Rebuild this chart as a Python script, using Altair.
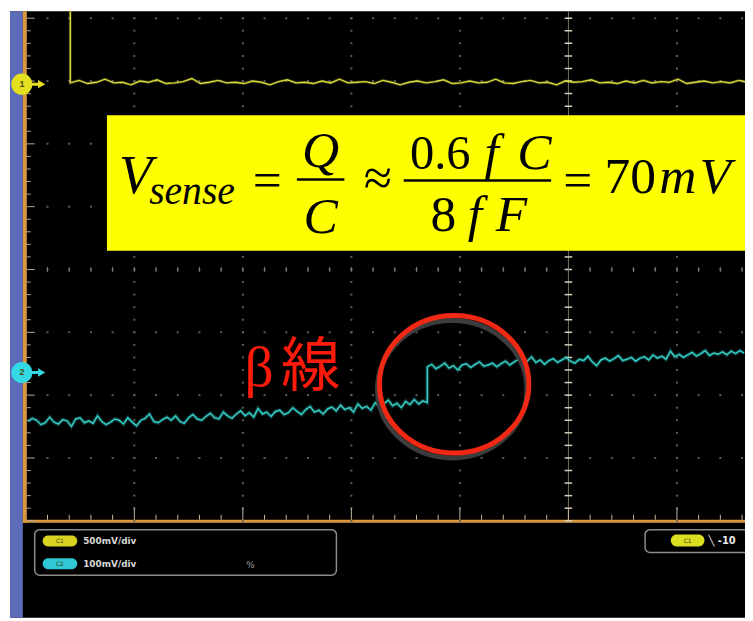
import altair as alt
import numpy as np
import pandas as pd

# ---------------- layout (page pixels -> scope divisions) ----------------
W, H = 745, 613
X0, XS = 26.0, 109.7   # page x of left graticule edge, px per division
Y0, YS = 269.0, 63.5   # page y of centre line, px per division
M = 8


def dx(px):
    return (px - X0) / XS


def vy(py):
    return (Y0 - py) / YS


XDOM = [dx(M), dx(M + W)]
YDOM = [vy(M + H), vy(M)]
xs = alt.Scale(domain=XDOM, nice=False, zero=False)
ys = alt.Scale(domain=YDOM, nice=False, zero=False)

# ---------------- data ----------------
ch_labels = ["1", "2"]
ch_levels = [2.95, -1.64]            # channel ground markers (div)
ch_scales = ["500mV/div", "100mV/div"]
trigger_text = "╲ -10"

# CH1 (yellow): drops from off-screen at t=0.41 div, then flat ~3 div
yellow_step_t = 0.41
yellow_dt = 0.08
yellow_vals = [
    2.97, 3.01, 2.96, 2.98, 3.03, 2.97, 2.98, 2.94, 3.00, 2.98,
    3.02, 2.96, 2.97, 2.99, 3.04, 2.96, 2.98, 3.01, 2.97, 2.98,
    2.96, 3.00, 2.98, 2.94, 2.99, 3.02, 2.97, 2.98, 2.96, 3.00,
    2.97, 3.03, 2.97, 2.98, 2.99, 2.96, 3.01, 2.98, 2.94, 2.98,
    3.00, 2.97, 2.99, 3.02, 2.96, 2.97, 3.00, 2.97, 2.98, 3.03,
    2.97, 2.96, 2.99, 3.01, 2.97, 2.98, 2.94, 3.00, 2.98, 2.99,
    3.02, 2.97, 2.98, 2.96, 3.00, 2.97, 3.01, 2.97, 2.99, 2.98,
    3.03, 2.96, 2.98, 3.00, 2.97, 2.99, 2.97, 3.01, 2.98,
]

# CH2 (cyan): slow drift, step of ~0.55 div (≈55 mV) at t=3.70 div
cyan_t0 = 0.02
cyan_dt = 0.04
cyan_step_t = 3.70
cyan_before = [
    -2.42, -2.37, -2.40, -2.47, -2.44, -2.35, -2.43, -2.46, -2.39, -2.41,
    -2.50, -2.38, -2.36, -2.44, -2.41, -2.45, -2.33, -2.42, -2.47, -2.43,
    -2.38, -2.40, -2.46, -2.36, -2.43, -2.49, -2.40, -2.37, -2.30, -2.42,
    -2.44, -2.39, -2.35, -2.40, -2.33, -2.42, -2.45, -2.36, -2.31, -2.38,
    -2.40, -2.34, -2.29, -2.36, -2.38, -2.27, -2.33, -2.37, -2.30, -2.25,
    -2.33, -2.28, -2.35, -2.21, -2.30, -2.27, -2.34, -2.26, -2.24, -2.31,
    -2.28, -2.20, -2.26, -2.31, -2.23, -2.18, -2.27, -2.24, -2.30, -2.22,
    -2.19, -2.25, -2.16, -2.23, -2.20, -2.27, -2.14, -2.21, -2.18, -2.24,
    -2.12, -2.19, -2.14, -2.08, -2.17, -2.13, -2.20, -2.10, -2.15, -2.07,
    -2.14, -2.09, -2.12,
]
cyan_after = [
    -1.55, -1.51, -1.58, -1.54, -1.49, -1.57, -1.53, -1.60, -1.52, -1.50,
    -1.56, -1.51, -1.47, -1.54, -1.52, -1.49, -1.55, -1.50, -1.46, -1.52,
    -1.47, -1.43, -1.50, -1.46, -1.39, -1.48, -1.44, -1.51, -1.45, -1.42,
    -1.48, -1.44, -1.40, -1.46, -1.49, -1.43, -1.45, -1.38, -1.47, -1.53,
    -1.44, -1.41, -1.46, -1.42, -1.37, -1.45, -1.43, -1.40, -1.46, -1.41,
    -1.39, -1.44, -1.36, -1.41, -1.38, -1.43, -1.30, -1.39, -1.35, -1.40,
    -1.36, -1.32, -1.38, -1.34, -1.29, -1.37, -1.33, -1.35, -1.31, -1.36,
    -1.30, -1.34, -1.29, -1.33,
]

annot_parts = [("β", 247, 58), ("線", 284, 60)]   # (text, left px, size)
annot_baseline = 387

# formula pieces: (text, centre px, baseline px, font size)
formula_italic = [
    ("V", 137, 192, 55), ("sense", 194, 203, 40),
    ("Q", 324, 165, 52), ("C", 324, 232, 52),
    ("f", 497, 167, 52), ("C", 540, 167, 52),
    ("f", 480, 230, 52), ("F", 517, 230, 52),
    ("m", 685, 192, 52), ("V", 723, 192, 52),
]
formula_normal = [
    ("=", 270, 196, 52), ("≈", 382, 194, 52), ("0.6", 445, 167, 49),
    ("8", 448, 230, 52), ("=", 584, 196, 52), ("70", 637, 192, 52),
]
fraction_bars = [(300, 348, 178), (408, 557, 179)]

# ---------------- helpers ----------------
def X(f):
    return alt.X(f"{f}:Q", scale=xs, axis=None)


def Y(f):
    return alt.Y(f"{f}:Q", scale=ys, axis=None)


def rect_df(px1, px2, py1, py2):
    return pd.DataFrame({"d": [dx(px1)], "d2": [dx(px2)], "v": [vy(py2)], "v2": [vy(py1)]})


def rect(df, **kw):
    return alt.Chart(df).mark_rect(**kw).encode(
        x=X("d"), x2=alt.X2("d2"), y=Y("v"), y2=alt.Y2("v2"))


def rules(df, **kw):
    return alt.Chart(df).mark_rule(**kw).encode(
        x=X("d"), x2=alt.X2("d2"), y=Y("v"), y2=alt.Y2("v2"))


layers = []

# screen background, blue side strip, orange frame
layers.append(rect(rect_df(10, 800, 0, 700), color="#000000"))
layers.append(rect(rect_df(10, 23, 0, 700), color="#5c6cb8"))
layers.append(rect(rect_df(23, 27, 0, 525), color="#d9973f"))
layers.append(rect(rect_df(23, 800, 522, 525), color="#d9973f"))

# graticule dots
gd, gv = [], []
for d in [1, 2, 3, 4, 6]:
    for v in np.arange(-4, 4.01, 0.2):
        gd.append(d); gv.append(v)
for v in [-3, -2, -1, 0, 1, 2, 3, 4]:
    for d in np.arange(0.2, 6.7, 0.2):
        gd.append(d); gv.append(v)
grid = pd.DataFrame({"d": gd, "v": gv})
layers.append(alt.Chart(grid).mark_square(size=4, color="#5e5e5e", opacity=1).encode(x=X("d"), y=Y("v")))

# centre vertical line with ticks
layers.append(rules(pd.DataFrame({"d": [5.0], "d2": [5.0], "v": [-4.0], "v2": [4.2]}),
                    color="#9a9280", strokeWidth=1, opacity=0.8))
tv = np.arange(-4, 4.01, 0.2)
layers.append(rules(pd.DataFrame({"d": 5 - 0.035, "d2": 5 + 0.035, "v": tv, "v2": tv}),
                    color="#d8d0b8", strokeWidth=1.5))
td = np.arange(0.2, 6.7, 0.2)
layers.append(rules(pd.DataFrame({"d": td, "d2": td, "v": -0.04, "v2": 0.04}),
                    color="#7a7a7a", strokeWidth=1))

# left frame ticks
lv = np.round(np.arange(-4, 4.01, 0.2), 2)
llen = [35 if abs(v - round(v)) < 1e-6 else 31 for v in lv]
layers.append(rules(pd.DataFrame({"d": dx(27), "d2": [dx(p) for p in llen], "v": lv, "v2": lv}),
                    color="#b8a890", strokeWidth=1))
# bottom frame ticks
bd = np.round(np.arange(0.2, 6.7, 0.2), 2)
blen = [510 if abs(d - round(d)) < 1e-6 else 517 for d in bd]
layers.append(rules(pd.DataFrame({"d": bd, "d2": bd, "v": vy(522), "v2": [vy(p) for p in blen]}),
                    color="#c8b8a0", strokeWidth=1))

# CH1 trace
yt = [0.0, yellow_step_t] + [yellow_step_t + yellow_dt * i for i in range(len(yellow_vals))]
yv = [4.6, 4.6] + yellow_vals
ydf = pd.DataFrame({"t": yt, "v": yv, "i": range(len(yt))})
layers.append(alt.Chart(ydf).mark_line(color="#d4d43a", strokeWidth=3, opacity=0.25, clip=True).encode(
    x=X("t"), y=Y("v"), order="i:Q"))
layers.append(alt.Chart(ydf).mark_line(color="#d8d83c", strokeWidth=1.4, clip=True).encode(
    x=X("t"), y=Y("v"), order="i:Q"))

# CH2 trace
ct = [cyan_t0 + cyan_dt * i for i in range(len(cyan_before))]
ct[-1] = cyan_step_t
ct2 = [cyan_step_t + cyan_dt * j for j in range(len(cyan_after))]
cdf = pd.DataFrame({"t": ct + ct2, "v": cyan_before + cyan_after})
cdf["i"] = range(len(cdf))
layers.append(alt.Chart(cdf).mark_line(color="#2ec8c4", strokeWidth=4, opacity=0.25, clip=True).encode(
    x=X("t"), y=Y("v"), order="i:Q"))
layers.append(alt.Chart(cdf).mark_line(color="#34d0c8", strokeWidth=1.5, clip=True).encode(
    x=X("t"), y=Y("v"), order="i:Q"))

# channel ground markers
for lab, lev, col in zip(ch_labels, ch_levels, ["#e4e020", "#34d8e4"]):
    mdf = pd.DataFrame({"d": [dx(22)], "v": [lev], "t": [lab]})
    layers.append(rules(pd.DataFrame({"d": [dx(28)], "d2": [dx(40)], "v": [lev], "v2": [lev]}),
                        color=col, strokeWidth=3))
    layers.append(alt.Chart(pd.DataFrame({"d": [dx(42)], "v": [lev]})).mark_point(
        shape="triangle-right", size=70, filled=True, color=col, opacity=1).encode(x=X("d"), y=Y("v")))
    layers.append(alt.Chart(mdf).mark_point(shape="circle", size=460, filled=True, color=col, opacity=1).encode(
        x=X("d"), y=Y("v")))
    layers.append(alt.Chart(mdf).mark_text(fontSize=9, fontWeight="bold", color="#4a4a10").encode(
        x=X("d"), y=Y("v"), text="t:N"))

# yellow formula box
layers.append(rect(rect_df(108, 800, 113, 250), color="#ffff00"))

serif = "Liberation Serif, Times New Roman, DejaVu Serif"
fi = pd.DataFrame([{"t": t, "d": dx(x), "v": vy(b), "s": s} for t, x, b, s in formula_italic])
fn = pd.DataFrame([{"t": t, "d": dx(x), "v": vy(b), "s": s} for t, x, b, s in formula_normal])
layers.append(alt.Chart(fi).mark_text(font=serif, fontStyle="italic", baseline="alphabetic",
                                      align="center", color="#000000").encode(
    x=X("d"), y=Y("v"), text="t:N", size=alt.Size("s:Q", scale=None, legend=None)))
layers.append(alt.Chart(fn).mark_text(font=serif, baseline="alphabetic",
                                      align="center", color="#000000").encode(
    x=X("d"), y=Y("v"), text="t:N", size=alt.Size("s:Q", scale=None, legend=None)))
fb = pd.DataFrame([{"d": dx(a), "d2": dx(b), "v": vy(y), "v2": vy(y)} for a, b, y in fraction_bars])
layers.append(rules(fb, color="#000000", strokeWidth=2.5))

# beta-ray annotation
adf = pd.DataFrame([{"t": t, "d": dx(x), "v": vy(annot_baseline), "s": s} for t, x, s in annot_parts])
layers.append(alt.Chart(adf).mark_text(
    font="Liberation Serif, Noto Sans CJK JP", align="left", baseline="alphabetic",
    color="#ff1a0a").encode(x=X("d"), y=Y("v"), text="t:N",
                            size=alt.Size("s:Q", scale=None, legend=None)))

ellipse = "M -1 0 A 1 0.92 0 1 0 1 0 A 1 0.92 0 1 0 -1 0 Z"
layers.append(alt.Chart(pd.DataFrame({"d": [dx(457)], "v": [vy(390)]})).mark_point(
    shape=ellipse, size=22801, filled=False, color="#3c3c3c", strokeWidth=5, opacity=1).encode(
    x=X("d"), y=Y("v")))
layers.append(alt.Chart(pd.DataFrame({"d": [dx(459)], "v": [vy(385)]})).mark_point(
    shape=ellipse, size=22801, filled=False, color="#f02814", strokeWidth=5, opacity=1).encode(
    x=X("d"), y=Y("v")))

# readout boxes
layers.append(rect(rect_df(35, 340, 532, 578), fillOpacity=0, stroke="#8c8c8c", strokeWidth=1.5, cornerRadius=5))
layers.append(rect(rect_df(652, 800, 532, 555), fillOpacity=0, stroke="#8c8c8c", strokeWidth=1.5, cornerRadius=5))
for (y1, y2), col, lab, sc in zip([(538, 549), (561, 572)], ["#d8d420", "#30c8d4"], ["C1", "C2"], ch_scales):
    layers.append(rect(rect_df(43, 78, y1, y2), color=col, cornerRadius=6))
    layers.append(alt.Chart(pd.DataFrame({"d": [dx(60.5)], "v": [vy((y1 + y2) / 2)], "t": [lab]})).mark_text(
        fontSize=6, color="#404010", font="DejaVu Sans").encode(x=X("d"), y=Y("v"), text="t:N"))
    layers.append(alt.Chart(pd.DataFrame({"d": [dx(84)], "v": [vy((y1 + y2) / 2)], "t": [sc]})).mark_text(
        fontSize=9, fontWeight="bold", align="left", color="#d8d8d8", font="DejaVu Sans").encode(
        x=X("d"), y=Y("v"), text="t:N"))
layers.append(alt.Chart(pd.DataFrame({"d": [dx(253)], "v": [vy(568)], "t": ["%"]})).mark_text(
    fontSize=9, color="#9a9a9a", font="DejaVu Sans").encode(x=X("d"), y=Y("v"), text="t:N"))
layers.append(rect(rect_df(678, 712, 537, 549), color="#d8e020", cornerRadius=6))
layers.append(alt.Chart(pd.DataFrame({"d": [dx(695)], "v": [vy(543)], "t": ["C1"]})).mark_text(
    fontSize=6, color="#404010", font="DejaVu Sans").encode(x=X("d"), y=Y("v"), text="t:N"))
layers.append(alt.Chart(pd.DataFrame({"d": [dx(716)], "v": [vy(543)], "t": [trigger_text]})).mark_text(
    fontSize=10, fontWeight="bold", align="left", color="#e8e8e8", font="DejaVu Sans").encode(
    x=X("d"), y=Y("v"), text="t:N"))

chart = alt.layer(*layers).properties(
    width=W, height=H, padding=0, background="#ffffff",
    autosize=alt.AutoSizeParams(type="none"),
).configure_view(stroke=None, clip=True)

chart.save("out.html", embed_options={"renderer": "svg", "actions": False})
